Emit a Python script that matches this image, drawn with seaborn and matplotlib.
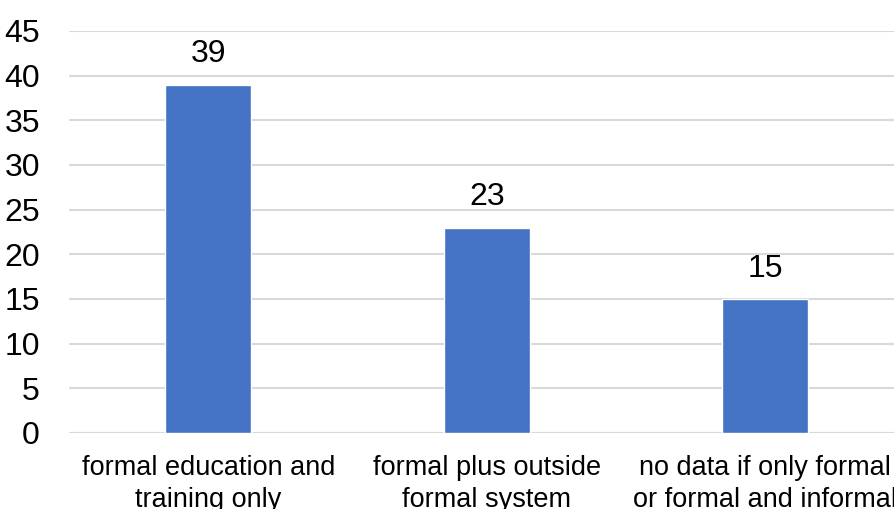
import matplotlib
matplotlib.use("Agg")
import matplotlib.pyplot as plt
import seaborn as sns
import pandas as pd

categories = [
    "formal education and\ntraining only",
    "formal plus outside\nformal system",
    "no data if only formal\nor formal and informal",
]
values = [39, 23, 15]
y_ticks = [0, 5, 10, 15, 20, 25, 30, 35, 40, 45]

sns.set_theme(style="white")
plt.rcParams["font.family"] = ["Liberation Sans", "DejaVu Sans"]

df = pd.DataFrame({"category": categories, "value": values})

fig = plt.figure(figsize=(8.94, 5.09), dpi=100)
ax = fig.add_axes([69 / 894, 76 / 509, (904.5 - 69) / 894, (478 - 76) / 509])

sns.barplot(data=df, x="category", y="value", color="#4472C4",
            width=0.31, saturation=1, ax=ax, zorder=3)

ax.set_ylim(0, 45)
ax.set_xlim(-0.5, 2.5)
ax.set_yticks(y_ticks)
ax.yaxis.grid(True, color="#d9d9d9", linewidth=1.5, zorder=0)
ax.set_axisbelow(True)
for s in ax.spines.values():
    s.set_visible(False)
ax.axhline(0, color="#d9d9d9", linewidth=1.5, zorder=1)

ax.set_xlabel("")
ax.set_ylabel("")
ax.tick_params(axis="y", labelsize=23, length=0, pad=21, colors="#000000")
ax.tick_params(axis="x", labelsize=19.5, length=0, pad=16, colors="#000000")
for lbl in ax.get_xticklabels():
    lbl.set_linespacing(1.3)

for container in ax.containers:
    ax.bar_label(container, labels=[str(v) for v in values],
                 fontsize=23, padding=11, color="#000000")

fig.savefig("out.png", dpi=100)
